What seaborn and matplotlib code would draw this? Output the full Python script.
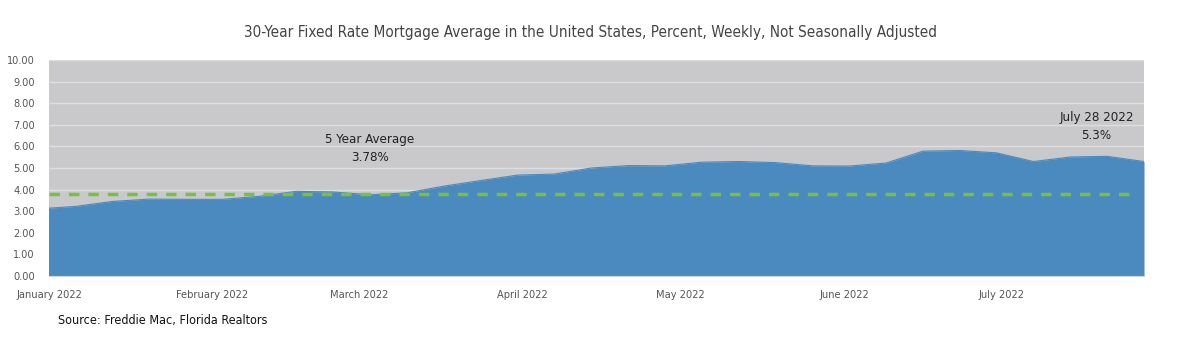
import matplotlib
matplotlib.use("Agg")
import matplotlib.pyplot as plt
import pandas as pd
import seaborn as sns

# Freddie Mac PMMS weekly 30-year fixed rate (week ending Thursday)
week_ending = [
    "2021-12-30", "2022-01-06", "2022-01-13", "2022-01-20", "2022-01-27",
    "2022-02-03", "2022-02-10", "2022-02-17", "2022-02-24", "2022-03-03",
    "2022-03-10", "2022-03-17", "2022-03-24", "2022-03-31", "2022-04-07",
    "2022-04-14", "2022-04-21", "2022-04-28", "2022-05-05", "2022-05-12",
    "2022-05-19", "2022-05-26", "2022-06-02", "2022-06-09", "2022-06-16",
    "2022-06-23", "2022-06-30", "2022-07-07", "2022-07-14", "2022-07-21",
    "2022-07-28",
]
rate = [
    3.11, 3.22, 3.45, 3.56, 3.55,
    3.55, 3.69, 3.92, 3.89, 3.76,
    3.85, 4.16, 4.42, 4.67, 4.72,
    5.00, 5.11, 5.10, 5.27, 5.30,
    5.25, 5.10, 5.09, 5.23, 5.78,
    5.81, 5.70, 5.30, 5.51, 5.54,
    5.30,
]
five_year_avg = 3.78
month_ticks = ["2022-01-01", "2022-02-01", "2022-03-01", "2022-04-01",
               "2022-05-01", "2022-06-01", "2022-07-01"]
month_labels = ["January 2022", "February 2022", "March 2022", "April 2022",
                "May 2022", "June 2022", "July 2022"]
y_ticks = [0, 1, 2, 3, 4, 5, 6, 7, 8, 9, 10]

df = pd.DataFrame({"date": pd.to_datetime(week_ending), "rate": rate})

sns.set_theme(style="white")
plt.rcParams["font.family"] = ["DejaVu Sans"]
plt.rcParams["font.stretch"] = "condensed"

fig = plt.figure(figsize=(11.8, 3.47), dpi=100)
ax = fig.add_axes([0.0415, 0.2046, 0.9280, 0.6225])
ax.set_facecolor("#C9C9CB")

blue = "#4B8ABF"
ax.fill_between(df["date"], 0, df["rate"], color=blue, linewidth=0, zorder=2)
sns.lineplot(data=df, x="date", y="rate", ax=ax, color=blue, linewidth=0.8,
             zorder=3, legend=False)

avg_df = pd.DataFrame({"date": [pd.Timestamp("2022-01-01"), pd.Timestamp("2022-07-26")],
                       "avg": [five_year_avg, five_year_avg]})
sns.lineplot(data=avg_df, x="date", y="avg", ax=ax, color="#78C043",
             linewidth=2.5, linestyle=(0, (3.0, 2.6)), zorder=4, legend=False)

ax.set_xlim(pd.Timestamp("2022-01-01"), pd.Timestamp("2022-07-28"))
ax.set_ylim(0, 10)
ax.set_yticks(y_ticks)
ax.set_yticklabels([f"{v:.2f}" for v in y_ticks], color="#555555", fontsize=7.8)
ax.yaxis.grid(True, color="#DEDEDE", linewidth=1.0, zorder=1)
ax.set_axisbelow(True)

ax.set_xticks(pd.to_datetime(month_ticks))
ax.set_xticklabels(month_labels, color="#555555", fontsize=7.9)
ax.tick_params(axis="x", length=4, width=0.8, color="#BBBBBB", pad=6)
ax.tick_params(axis="y", length=0, pad=10)
ax.set_xlabel("")
ax.set_ylabel("")
for s in ax.spines.values():
    s.set_visible(False)
ax.spines["bottom"].set_visible(True)
ax.spines["bottom"].set_color("#D0D8E4")
ax.spines["bottom"].set_linewidth(0.8)

ax.text(pd.Timestamp("2022-03-03"), 5.9, "5 Year Average\n" + f"{five_year_avg:.2f}%",
        ha="center", va="center", fontsize=9.5, color="#222222",
        linespacing=1.5, zorder=5)
ax.text(pd.Timestamp("2022-07-19"), 6.9, "July 28 2022\n" + f"{rate[-1]:.1f}%",
        ha="center", va="center", fontsize=9.5, color="#222222",
        linespacing=1.5, zorder=5)

fig.text(0.5, 0.905, "30-Year Fixed Rate Mortgage Average in the United States, "
         "Percent, Weekly, Not Seasonally Adjusted",
         ha="center", va="center", fontsize=11.0, color="#444444")
fig.text(0.049, 0.075, "Source: Freddie Mac, Florida Realtors",
         ha="left", va="center", fontsize=9.0, color="#111111")

fig.savefig("out.png", dpi=100, facecolor="white")
